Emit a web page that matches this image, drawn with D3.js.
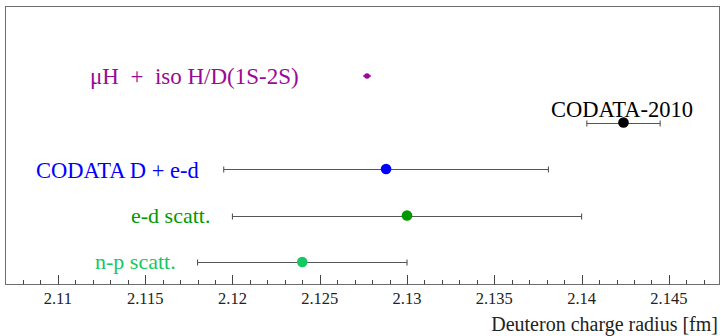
<!DOCTYPE html>
<html>
<head>
<meta charset="utf-8">
<script src="https://cdn.jsdelivr.net/npm/d3@7"></script>
<style>
  html, body { margin: 0; padding: 0; background: #fff; }
  svg { display: block; }
  text { font-family: "Liberation Serif", "Times New Roman", Times, serif; }
</style>
</head>
<body>
<svg id="chart" width="722" height="336"></svg>
<script>
// Deuteron charge radius determinations (fm)
const labels  = ["\u03bcH  +  iso H/D(1S-2S)", "CODATA-2010", "CODATA D + e-d", "e-d scatt.", "n-p scatt."];
const values  = [2.12771, 2.1424, 2.1288, 2.130, 2.124];
const errors  = [0.00022, 0.0021, 0.0093, 0.010, 0.006];
const colors  = ["#9a0a96", "#000000", "#0000ff", "#009a00", "#14c864"];
const tickValues = [2.11, 2.115, 2.12, 2.125, 2.13, 2.135, 2.14, 2.145];
const axisTitle = "Deuteron charge radius [fm]";

const svg = d3.select("#chart");
const frame = { left: 5.5, right: 719.5, top: 6.5, bottom: 284.5 };

const x = d3.scaleLinear().domain([2.1070, 2.1479]).range([frame.left, frame.right]);
// vertical rows, top to bottom
const y = d3.scalePoint().domain(d3.range(labels.length)).range([76, 262]);

// frame
svg.append("rect")
  .attr("x", frame.left).attr("y", frame.top)
  .attr("width", frame.right - frame.left).attr("height", frame.bottom - frame.top)
  .attr("fill", "none").attr("stroke", "#6e6e6e").attr("stroke-width", 1);

// bottom axis: major ticks every 0.005, minor every 0.001
const minor = d3.range(2.108, 2.1475, 0.001).map(v => +v.toFixed(3));
const axisG = svg.append("g").attr("transform", `translate(0,${frame.bottom})`);
axisG.selectAll("line.minor").data(minor).join("line")
  .attr("class", "minor")
  .attr("x1", d => Math.round(x(d)) + 0.5).attr("x2", d => Math.round(x(d)) + 0.5)
  .attr("y1", 0).attr("y2", -4.5)
  .attr("stroke", "#444").attr("stroke-width", 1);
axisG.selectAll("line.major").data(tickValues).join("line")
  .attr("class", "major")
  .attr("x1", d => Math.round(x(d)) + 0.5).attr("x2", d => Math.round(x(d)) + 0.5)
  .attr("y1", 0).attr("y2", -9.5)
  .attr("stroke", "#444").attr("stroke-width", 1);
axisG.selectAll("text").data(tickValues).join("text")
  .attr("x", d => x(d)).attr("y", 19)
  .attr("text-anchor", "middle")
  .attr("font-size", 16.5)
  .attr("fill", "#222")
  .text(d => d3.format("")(d));

svg.append("text")
  .attr("x", 718).attr("y", 331)
  .attr("text-anchor", "end")
  .attr("font-size", 20)
  .attr("fill", "#222")
  .text(axisTitle);

// error bars with end caps
const rows = labels.map((l, i) => ({ label: l, v: values[i], e: errors[i], c: colors[i], i }));
const g = svg.append("g");
rows.filter(d => d.i !== 0).forEach(d => {
  const yy = Math.round(y(d.i)) + 0.5;
  const x0 = x(d.v - d.e), x1 = x(d.v + d.e);
  g.append("line").attr("x1", x0).attr("x2", x1).attr("y1", yy).attr("y2", yy)
    .attr("stroke", "#555").attr("stroke-width", 1.1);
  [x0, x1].forEach(xx => g.append("line")
    .attr("x1", xx).attr("x2", xx).attr("y1", yy - 3).attr("y2", yy + 3)
    .attr("stroke", "#555").attr("stroke-width", 1.1));
});
// the μH value carries a tiny bar inside its marker
{
  const d = rows[0];
  const yy = y(d.i);
  g.append("line").attr("x1", x(d.v - d.e)).attr("x2", x(d.v + d.e)).attr("y1", yy).attr("y2", yy)
    .attr("stroke", d.c).attr("stroke-width", 1.5);
}

// markers
g.selectAll("circle").data(rows).join("circle")
  .attr("cx", d => x(d.v)).attr("cy", d => y(d.i))
  .attr("r", d => d.i === 0 ? 2.8 : 5.3)
  .attr("fill", d => d.c);

// labels
const labelPos = [
  { x: 90,  y: 84,  size: 23 },
  { x: 551, y: 117, size: 22.5 },
  { x: 36,  y: 178, size: 22.5 },
  { x: 131, y: 223, size: 22 },
  { x: 95,  y: 269, size: 22 }
];
svg.selectAll("text.lbl").data(rows).join("text")
  .attr("class", "lbl")
  .attr("x", d => labelPos[d.i].x).attr("y", d => labelPos[d.i].y)
  .attr("text-anchor", "start")
  .attr("font-size", d => labelPos[d.i].size)
  .attr("fill", d => d.c)
  .style("white-space", "pre")
  .text(d => d.label);
</script>
</body>
</html>
